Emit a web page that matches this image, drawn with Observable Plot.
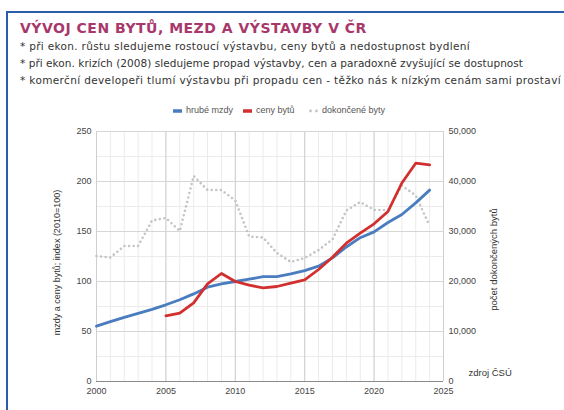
<!DOCTYPE html>
<html>
<head>
<meta charset="utf-8">
<script src="https://cdn.jsdelivr.net/npm/d3@7"></script>
<script src="https://cdn.jsdelivr.net/npm/@observablehq/plot@0.6"></script>
<style>
  html, body { margin: 0; padding: 0; background: #fff; }
  #page { position: relative; width: 564px; height: 410px; overflow: hidden; background: #fff; }
  #box { position: absolute; left: 6px; top: 11px; width: 620px; height: 440px; border: 2px solid #2a5ea8; box-sizing: border-box; }
  #title { position: absolute; left: 20px; top: 20px; font-family: "DejaVu Sans", sans-serif; font-weight: bold; font-size: 14px; color: #a8386b; letter-spacing: 0.5px; white-space: nowrap; }
  .sub { position: absolute; left: 20px; font-family: "DejaVu Sans", sans-serif; font-size: 10.5px; color: #333; white-space: nowrap; }
  #legend { position: absolute; top: 104px; left: 0; width: 564px; font-family: "Liberation Sans", Arial, sans-serif; font-size: 9px; color: #555; }
  .li { position: absolute; top: 0; white-space: nowrap; line-height: 12px; }
  .sw { display: inline-block; vertical-align: middle; margin-right: 4px; }
  #chart { position: absolute; left: 0; top: 120px; }
</style>
</head>
<body>
<div id="page">
  <div id="box"></div>
  <div id="title">VÝVOJ CEN BYTŮ, MEZD A VÝSTAVBY V ČR</div>
  <div id="subs"></div>
  <div id="legend"></div>
  <div id="chart"></div>
</div>
<script>
const subtitleLines = [
  "* při ekon. růstu sledujeme rostoucí výstavbu, ceny bytů a nedostupnost bydlení",
  "* při ekon. krizích (2008) sledujeme propad výstavby, cen a paradoxně zvyšující se dostupnost",
  "* komerční developeři tlumí výstavbu při propadu cen - těžko nás k nízkým cenám sami prostaví"
];
const years = [2000,2001,2002,2003,2004,2005,2006,2007,2008,2009,2010,2011,2012,2013,2014,2015,2016,2017,2018,2019,2020,2021,2022,2023,2024];
const wages = [55.3,59.8,64.2,68.1,72.2,76.7,81.7,87.6,94.3,97.6,100,102.3,104.8,104.8,107.6,110.9,115.3,123.6,134.5,143.8,149.6,159.0,167.0,178.6,191.4];
const priceYears = [2005,2006,2007,2008,2009,2010,2011,2012,2013,2014,2015,2016,2017,2018,2019,2020,2021,2022,2023,2024];
const prices = [65.7,68.3,78.7,97.7,108,100,96.3,93.7,95,98.3,101.7,112,124.3,138.3,148.3,157.7,170,198.5,218.3,216.7];
const dwellings = [25100,24800,27100,27100,32200,32700,30100,41100,38300,38300,36200,29000,28800,25700,23900,24700,26300,28400,34200,35900,34300,34300,39200,37200,31100];
const seriesNames = ["hrubé mzdy", "ceny bytů", "dokončené byty"];
const seriesColors = ["#4a7cc0", "#d22f2f", "#c4c4c4"];
const xTicks = [2000,2005,2010,2015,2020,2025];
const yTicks = [0,50,100,150,200,250];
const rightTicks = [0,10000,20000,30000,40000,50000];
const leftTitle = "mzdy a ceny bytů; index (2010=100)";
const rightTitle = "počet dokončených bytů";
const sourceNote = "zdroj ČSÚ";
const RATIO = 200; // right axis units per left axis unit (50,000 ↔ 250)

// subtitle lines, spaced to match the reference line lengths
const subs = document.getElementById("subs");
const subTops = [40, 57, 74];
const subWidths = [450, 503, 541];
subtitleLines.forEach((t, i) => {
  const div = document.createElement("div");
  div.className = "sub";
  div.style.top = subTops[i] + "px";
  div.textContent = t;
  subs.appendChild(div);
  const w = div.getBoundingClientRect().width;
  div.style.letterSpacing = ((subWidths[i] - w) / t.length) + "px";
});

const wageData = years.map((y, i) => ({year: y, v: wages[i]}));
const priceData = priceYears.map((y, i) => ({year: y, v: prices[i]}));
const dwellData = years.map((y, i) => ({year: y, v: dwellings[i]}));

// legend
const legend = document.getElementById("legend");
const legendX = [173, 243, 309];
seriesNames.forEach((name, i) => {
  const div = document.createElement("div");
  div.className = "li";
  div.style.left = legendX[i] + "px";
  let sw;
  if (i < 2) {
    sw = `<svg class="sw" width="9" height="4"><rect width="9" height="3.5" y="0.25" fill="${seriesColors[i]}"/></svg>`;
  } else {
    sw = `<svg class="sw" width="9" height="4"><circle cx="1.5" cy="2" r="1.4" fill="${seriesColors[i]}"/><circle cx="7.5" cy="2" r="1.4" fill="${seriesColors[i]}"/></svg>`;
  }
  div.innerHTML = sw + name;
  legend.appendChild(div);
});

const chart = Plot.plot({
  width: 564,
  height: 290,
  marginLeft: 96,
  marginRight: 121,
  marginTop: 11,
  marginBottom: 29,
  x: {domain: [2000, 2025]},
  y: {domain: [0, 250]},
  style: {fontFamily: "'Liberation Sans', Arial, sans-serif", fontSize: "9px", color: "#444", background: "transparent", overflow: "visible"},
  marks: [
    Plot.gridX(d3.range(2000, 2026), {stroke: "#ebebeb", strokeOpacity: 1}),
    Plot.gridY(d3.range(0, 251, 25), {stroke: "#ebebeb", strokeOpacity: 1}),
    Plot.gridX(xTicks, {stroke: "#cfcfcf", strokeOpacity: 1}),
    Plot.gridY(yTicks, {stroke: "#d6d6d6", strokeOpacity: 1}),
    Plot.ruleY([0], {stroke: "#8a8a8a", strokeWidth: 1.2}),
    Plot.axisX(xTicks, {tickSize: 0, tickPadding: 6, tickFormat: d => String(d), label: null, fill: "#444"}),
    Plot.axisY(yTicks, {anchor: "left", tickSize: 0, tickPadding: 5, label: null, fill: "#444"}),
    Plot.axisY(rightTicks.map(d => d / RATIO), {anchor: "right", tickSize: 0, tickPadding: 5, label: null, fill: "#444", tickFormat: d => d3.format(",")(Math.round(d * RATIO))}),
    Plot.text([leftTitle], {frameAnchor: "left", textAnchor: "middle", rotate: -90, dx: -39, dy: 6, fill: "#333", fontSize: 9}),
    Plot.text([rightTitle], {frameAnchor: "right", textAnchor: "middle", rotate: -90, dx: 50, dy: 3, fill: "#333", fontSize: 9.5}),
    Plot.text([sourceNote], {frameAnchor: "bottom-right", textAnchor: "start", dx: 25, dy: -6, fill: "#333", fontSize: 9.5}),
    Plot.line(dwellData, {x: "year", y: d => d.v / RATIO, stroke: seriesColors[2], strokeWidth: 2.6, strokeDasharray: "0 4.6", strokeLinecap: "round", curve: "linear"}),
    Plot.line(wageData, {x: "year", y: "v", stroke: seriesColors[0], strokeWidth: 2.8}),
    Plot.line(priceData, {x: "year", y: "v", stroke: seriesColors[1], strokeWidth: 2.8})
  ]
});
document.getElementById("chart").appendChild(chart);
</script>
</body>
</html>
